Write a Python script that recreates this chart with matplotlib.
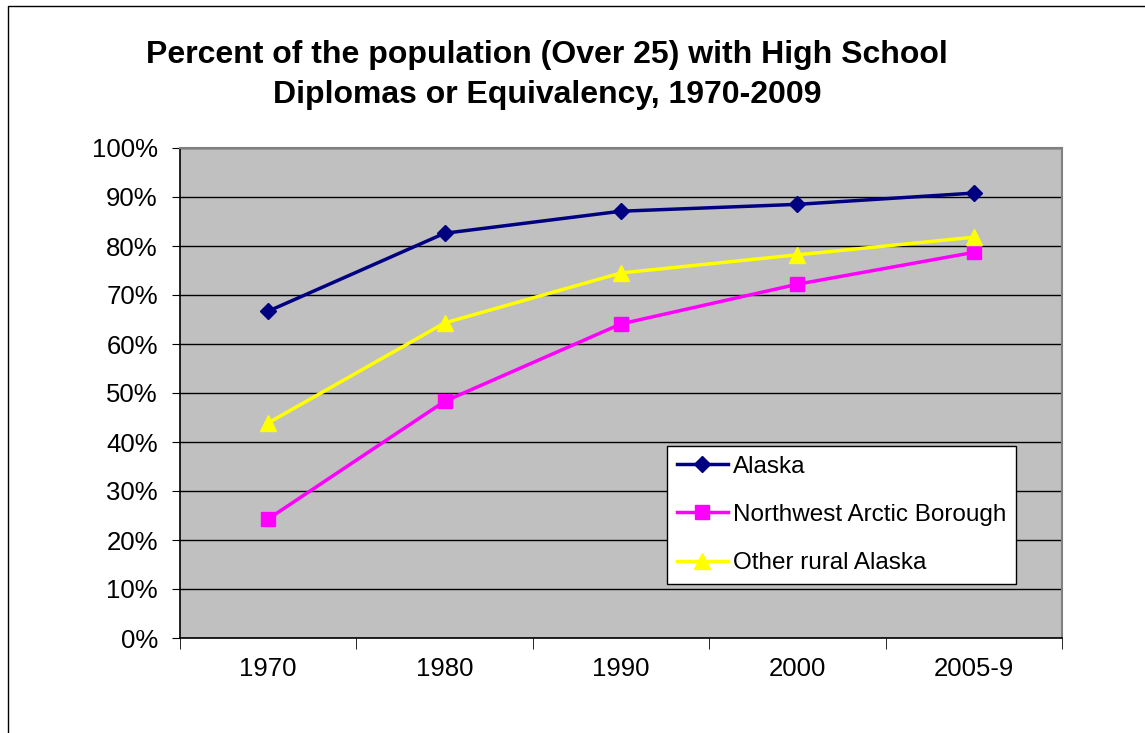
import matplotlib.pyplot as plt
import matplotlib.patches as mpatches
from matplotlib.ticker import FuncFormatter

# --- dữ liệu ---
years = ["1970", "1980", "1990", "2000", "2005-9"]
alaska = [66.7, 82.6, 87.1, 88.5, 90.8]
nw_arctic = [24.3, 48.3, 64.1, 72.2, 78.7]
other_rural = [43.9, 64.3, 74.5, 78.2, 81.8]

plt.rcParams['font.family'] = ['Liberation Sans', 'DejaVu Sans']

fig = plt.figure(figsize=(11.45, 7.33), dpi=100)
W, H = 1145, 733

# khung viền ngoài
fig.patches.append(mpatches.Rectangle((8 / W, -0.1), 1.2, 1 - 6 / H + 0.1,
                                      transform=fig.transFigure, fill=False,
                                      edgecolor='black', linewidth=1))

ax = fig.add_axes([180 / W, 1 - 638 / H, (1062 - 180) / W, (638 - 148) / H])
ax.set_facecolor('#c0c0c0')

x = list(range(len(years)))
ax.plot(x, alaska, color='#000080', marker='D', markersize=8, linewidth=2.5, label='Alaska')
ax.plot(x, nw_arctic, color='#ff00ff', marker='s', markersize=10, linewidth=2.5, label='Northwest Arctic Borough')
ax.plot(x, other_rural, color='#ffff00', marker='^', markersize=11, linewidth=2.5, label='Other rural Alaska')

ax.set_xlim(-0.5, 4.5)
ax.set_ylim(0, 100)
ax.set_yticks(range(0, 101, 10))
ax.yaxis.set_major_formatter(FuncFormatter(lambda v, p: f"{int(v)}%"))
ax.grid(axis='y', color='black', linewidth=1)
ax.set_axisbelow(True)

ax.set_xticks(x)
ax.set_xticklabels(years)
ax.tick_params(axis='x', which='major', length=0, pad=14, labelsize=18.5)
ax.set_xticks([i - 0.5 for i in range(len(years) + 1)], minor=True)
ax.tick_params(axis='x', which='minor', length=8, direction='out', color='black')
ax.tick_params(axis='y', length=6, direction='out', labelsize=18.5, pad=10)

for s in ['top', 'right']:
    ax.spines[s].set_color('#808080')
    ax.spines[s].set_linewidth(1.5)
for s in ['left', 'bottom']:
    ax.spines[s].set_color('black')
    ax.spines[s].set_linewidth(1.2)

fig.text(547 / W, 1 - 75 / H, "Percent of the population (Over 25) with High School\nDiplomas or Equivalency, 1970-2009",
         ha='center', va='center', fontsize=23, fontweight='bold', linespacing=1.4)

leg = ax.legend(loc='upper left', bbox_to_anchor=((667 - 180) / (1062 - 180), 1 - (446 - 148) / 490),
                frameon=True, fancybox=False, fontsize=17.5, handlelength=2.1,
                labelspacing=1.08, borderpad=0.4, handletextpad=0.2, borderaxespad=0)
leg.get_frame().set_edgecolor('black')
leg.get_frame().set_facecolor('white')
leg.get_frame().set_alpha(1)
leg.get_frame().set_linewidth(1)

fig.savefig('out.png', dpi=100)
